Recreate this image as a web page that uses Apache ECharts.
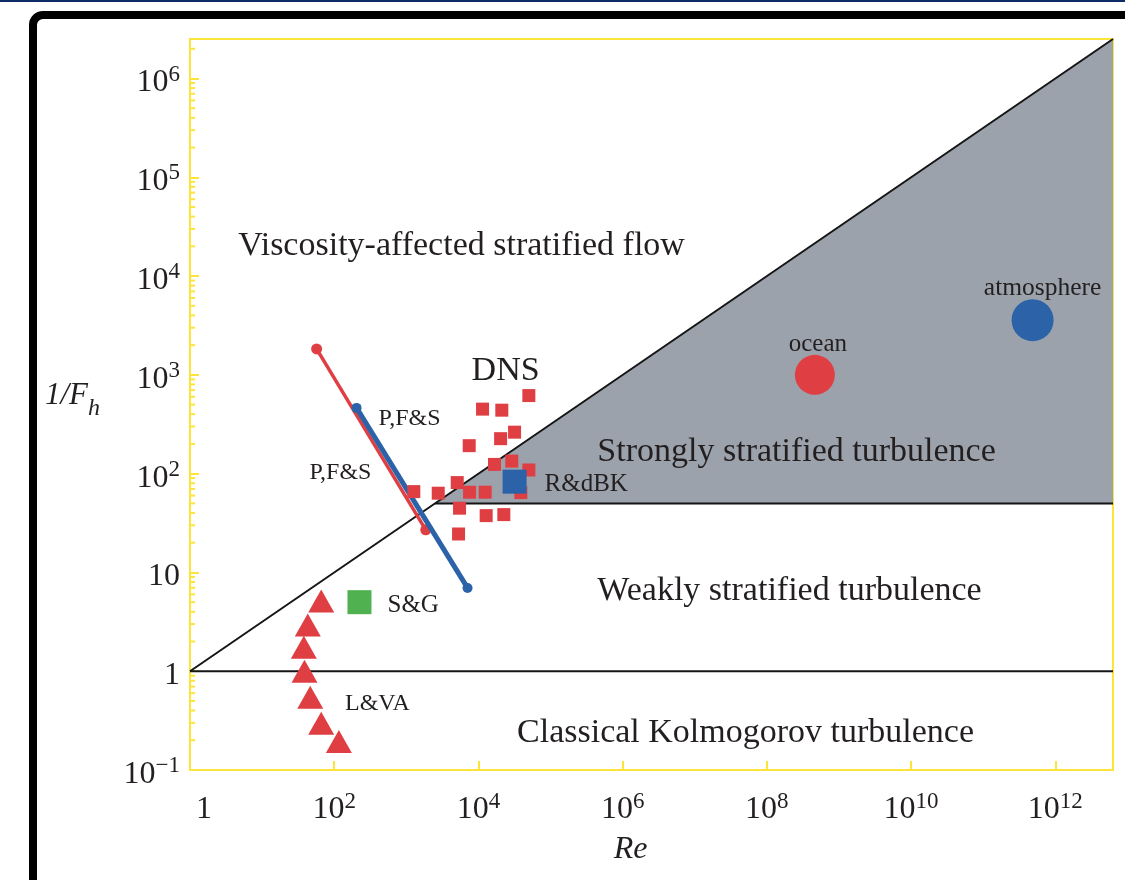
<!DOCTYPE html>
<html>
<head>
<meta charset="utf-8">
<script src="https://cdn.jsdelivr.net/npm/echarts@6/dist/echarts.min.js"></script>
<style>
  html, body { margin: 0; padding: 0; background: #ffffff; }
  #chart { width: 1125px; height: 880px; }
</style>
</head>
<body>
<div id="chart"></div>
<script>
// ---- Axis extents and tick exponents (Re and 1/F_h, both logarithmic) ----
const RE_MIN = 1;
const RE_MAX = 6.31e12;      // 10^12.8
const FH_MIN = 0.1;
const FH_MAX = 2.512e6;      // 10^6.4
const xTickExponents = [0, 2, 4, 6, 8, 10, 12];
const yTickExponents = [-1, 0, 1, 2, 3, 4, 5, 6];
const minorMantissas = [2, 3, 4, 5, 6, 7, 8, 9];

// ---- Regime boundaries ----
const diagonalBoundary = [[1, 1], [6.31e12, 2.512e6]];      // 1/F_h = Re^(1/2)
const kolmogorovBoundary = [[1, 1], [6.31e12, 1]];         // 1/F_h = 1
const strongBoundary = [[2500, 50], [6.31e12, 50]];        // 1/F_h = 50
const stronglyStratifiedRegion = [[2500, 50], [6.31e12, 50], [6.31e12, 2.512e6]];

// ---- Experiments and simulations ----
const pfsRed = [[57, 1830], [1860, 27]];
const pfsBlue = [[204, 463], [7060, 6.97]];
const dnsPoints = [
  [50000, 617], [11400, 450], [21100, 439], [31700, 263], [20300, 226],
  [7450, 192], [16700, 124], [29000, 134], [50000, 109], [1270, 65.8],
  [2770, 63.4], [5080, 81.2], [7530, 64.9], [12400, 64.9], [38700, 64.3],
  [5470, 44.7], [12800, 37.6], [22500, 38.5], [5300, 24.5]
];
const lvaPoints = [[66, 5.15], [43, 2.94], [37.9, 1.75], [38.7, 1.0], [46.5, 0.545], [66, 0.297], [116, 0.194]];
const sgPoint = [[224, 5.0]];
const rdbkPoint = [[31700, 83]];
const oceanPoint = [[4.63e8, 1000]];
const atmospherePoint = [[4.84e11, 3580]];

// ---- Text annotations anchored in (Re, 1/F_h) ----
const regionNames = [
  'Viscosity-affected stratified flow', 'Strongly stratified turbulence',
  'Weakly stratified turbulence', 'Classical Kolmogorov turbulence', 'DNS'
];
const regionAnchors = [[5830, 21700], [2.58e8, 178], [2.06e8, 6.97], [5.06e7, 0.254], [23800, 1180]];
const smallNames = ['P,F&S', 'P,F&S', 'L&VA'];
const smallAnchors = [[1107, 385], [122, 109], [398, 0.5]];

// ---- Styling ----
const SERIF = 'Liberation Serif';
const INK = '#231f20';
const YELLOW = '#fce43a';
const RED = '#df3f43';
const BLUE = '#2b62a8';
const GREEN = '#4fb14f';
const GREY = '#9ba2ab';

const minorTickValues = [];
for (let e = -1; e <= 6; e++) {
  minorMantissas.forEach(m => {
    const v = m * Math.pow(10, e);
    if (v < FH_MAX) minorTickValues.push(v);
  });
}

function expOf(v) { return Math.round(Math.log10(v)); }
function powerLabel(v, oneStyle) {
  const e = expOf(v);
  if (e === 0) return '{' + oneStyle + '|1}';
  if (e === 1) return '{b|10}';
  return '{b|10}{s|' + String(e).replace('-', '\u2212') + '}';
}
const richTick = {
  b: { fontFamily: SERIF, fontSize: 32, lineHeight: 40, color: INK },
  s: { fontFamily: SERIF, fontSize: 23, lineHeight: 23, color: INK, verticalAlign: 'top' },
  one: { fontFamily: SERIF, fontSize: 32, lineHeight: 40, color: INK, padding: [0, 0, 0, 28] },
  oneY: { fontFamily: SERIF, fontSize: 32, lineHeight: 40, color: INK }
};

const chart = echarts.init(document.getElementById('chart'), null, { renderer: 'canvas' });

const labelFont = { fontFamily: SERIF, color: INK, opacity: 1 };
const solid = c => ({ color: c, opacity: 1 });

chart.setOption({
  animation: false,
  backgroundColor: '#ffffff',
  grid: {
    left: 190, right: 12, top: 39, bottom: 110,
    show: true, borderColor: YELLOW, borderWidth: 2, backgroundColor: 'transparent',
    containLabel: false, outerBoundsMode: 'none'
  },
  graphic: [
    { type: 'rect', silent: true, z: 100,
      shape: { x: 0, y: 0, width: 1125, height: 2 },
      style: { fill: '#0b2a66' } },
    { type: 'rect', silent: true, z: 100,
      shape: { x: 33, y: 15, width: 1150, height: 940, r: 10 },
      style: { fill: null, stroke: '#000000', lineWidth: 8 } }
  ],
  xAxis: {
    type: 'log', logBase: 10, min: RE_MIN, max: RE_MAX, interval: 2,
    name: 'Re', nameLocation: 'middle', nameGap: 64,
    nameTextStyle: { fontFamily: SERIF, fontStyle: 'italic', fontSize: 32, color: INK, padding: [0, 42, 0, 0] },
    axisLine: { show: true, lineStyle: { color: YELLOW, width: 2 } },
    axisTick: { show: true, inside: true, length: 9, lineStyle: { color: YELLOW, width: 2 } },
    axisLabel: {
      margin: 20, showMaxLabel: false,
      formatter: v => powerLabel(v, 'one'),
      rich: richTick
    },
    splitLine: { show: false }
  },
  yAxis: {
    type: 'log', logBase: 10, min: FH_MIN, max: FH_MAX, interval: 1,
    name: '{n|1/F}{h|h}', nameLocation: 'middle', nameRotate: 0, nameGap: 90,
    nameTextStyle: {
      padding: [0, 0, 17, 0],
      rich: {
        n: { fontFamily: SERIF, fontStyle: 'italic', fontSize: 31, lineHeight: 50, color: INK },
        h: { fontFamily: SERIF, fontStyle: 'italic', fontSize: 24, lineHeight: 24, color: INK,
             verticalAlign: 'bottom' }
      }
    },
    axisLine: { show: true, lineStyle: { color: YELLOW, width: 2 } },
    axisTick: { show: true, inside: true, length: 9, lineStyle: { color: YELLOW, width: 2 } },
    axisLabel: {
      margin: 10, showMaxLabel: false, padding: [9, 0, 0, 0],
      formatter: v => powerLabel(v, 'oneY'),
      rich: richTick
    },
    splitLine: { show: false }
  },
  series: [
    {
      name: 'strongly stratified region', type: 'custom', z: 1, silent: true,
      data: [0],
      renderItem: (params, api) => ({
        type: 'polygon',
        shape: { points: stronglyStratifiedRegion.map(p => api.coord(p)) },
        style: { fill: GREY }
      })
    },
    {
      name: 'minor ticks', type: 'custom', z: 3, silent: true, clip: false,
      data: minorTickValues.map(v => [RE_MIN, v]),
      encode: { x: 0, y: 1 },
      renderItem: (params, api) => {
        const p = api.coord([RE_MIN, api.value(1)]);
        return {
          type: 'line',
          shape: { x1: p[0], y1: p[1], x2: p[0] + 5, y2: p[1] },
          style: { stroke: YELLOW, lineWidth: 2 }
        };
      }
    },
    { type: 'line', z: 2, data: diagonalBoundary, symbol: 'none', silent: true,
      lineStyle: { color: '#151515', width: 2 } },
    { type: 'line', z: 2, data: kolmogorovBoundary, symbol: 'none', silent: true,
      lineStyle: { color: '#151515', width: 2 } },
    { type: 'line', z: 2, data: strongBoundary, symbol: 'none', silent: true,
      lineStyle: { color: '#151515', width: 2 } },
    { name: 'P,F&S (red)', type: 'line', z: 4, data: pfsRed, symbol: 'circle', symbolSize: 11,
      itemStyle: solid(RED), lineStyle: { color: RED, width: 3.5 } },
    { name: 'P,F&S (blue)', type: 'line', z: 5, data: pfsBlue, symbol: 'circle', symbolSize: 10,
      itemStyle: solid(BLUE), lineStyle: { color: BLUE, width: 5 } },
    { name: 'DNS', type: 'scatter', z: 6, data: dnsPoints, symbol: 'rect', symbolSize: 13,
      itemStyle: solid(RED) },
    { name: 'L&VA', type: 'scatter', z: 6, data: lvaPoints, symbol: 'triangle', symbolSize: [26, 23],
      itemStyle: solid(RED) },
    { name: 'S&G', type: 'scatter', z: 6, data: sgPoint, symbol: 'rect', symbolSize: 24,
      itemStyle: solid(GREEN),
      label: { show: true, position: 'right', distance: 16, offset: [0, 3], formatter: 'S&G', fontSize: 25, ...labelFont } },
    { name: 'R&dBK', type: 'scatter', z: 7, data: rdbkPoint, symbol: 'rect', symbolSize: 24,
      itemStyle: solid(BLUE),
      label: { show: true, position: 'right', distance: 18, offset: [0, 3], formatter: 'R&dBK', fontSize: 25, ...labelFont } },
    { name: 'ocean', type: 'scatter', z: 6, data: oceanPoint, symbol: 'circle', symbolSize: 40,
      itemStyle: solid(RED),
      label: { show: true, position: 'top', distance: 0, offset: [3, 2], formatter: 'ocean', fontSize: 25, ...labelFont } },
    { name: 'atmosphere', type: 'scatter', z: 6, data: atmospherePoint, symbol: 'circle', symbolSize: 42,
      itemStyle: solid(BLUE),
      label: { show: true, position: 'top', distance: 0, offset: [10, 2], formatter: 'atmosphere', fontSize: 25.5, ...labelFont } },
    { name: 'regime labels', type: 'scatter', z: 8, silent: true, symbolSize: 0,
      data: regionAnchors.map((p, i) => ({ value: p, name: regionNames[i] })),
      label: { show: true, position: 'inside', offset: [0, 3], formatter: '{b}', fontSize: 34, ...labelFont } },
    { name: 'source labels', type: 'scatter', z: 8, silent: true, symbolSize: 0,
      data: smallAnchors.map((p, i) => ({ value: p, name: smallNames[i] })),
      label: { show: true, position: 'inside', offset: [0, 3], formatter: '{b}', fontSize: 24, ...labelFont } }
  ]
});
</script>
</body>
</html>
